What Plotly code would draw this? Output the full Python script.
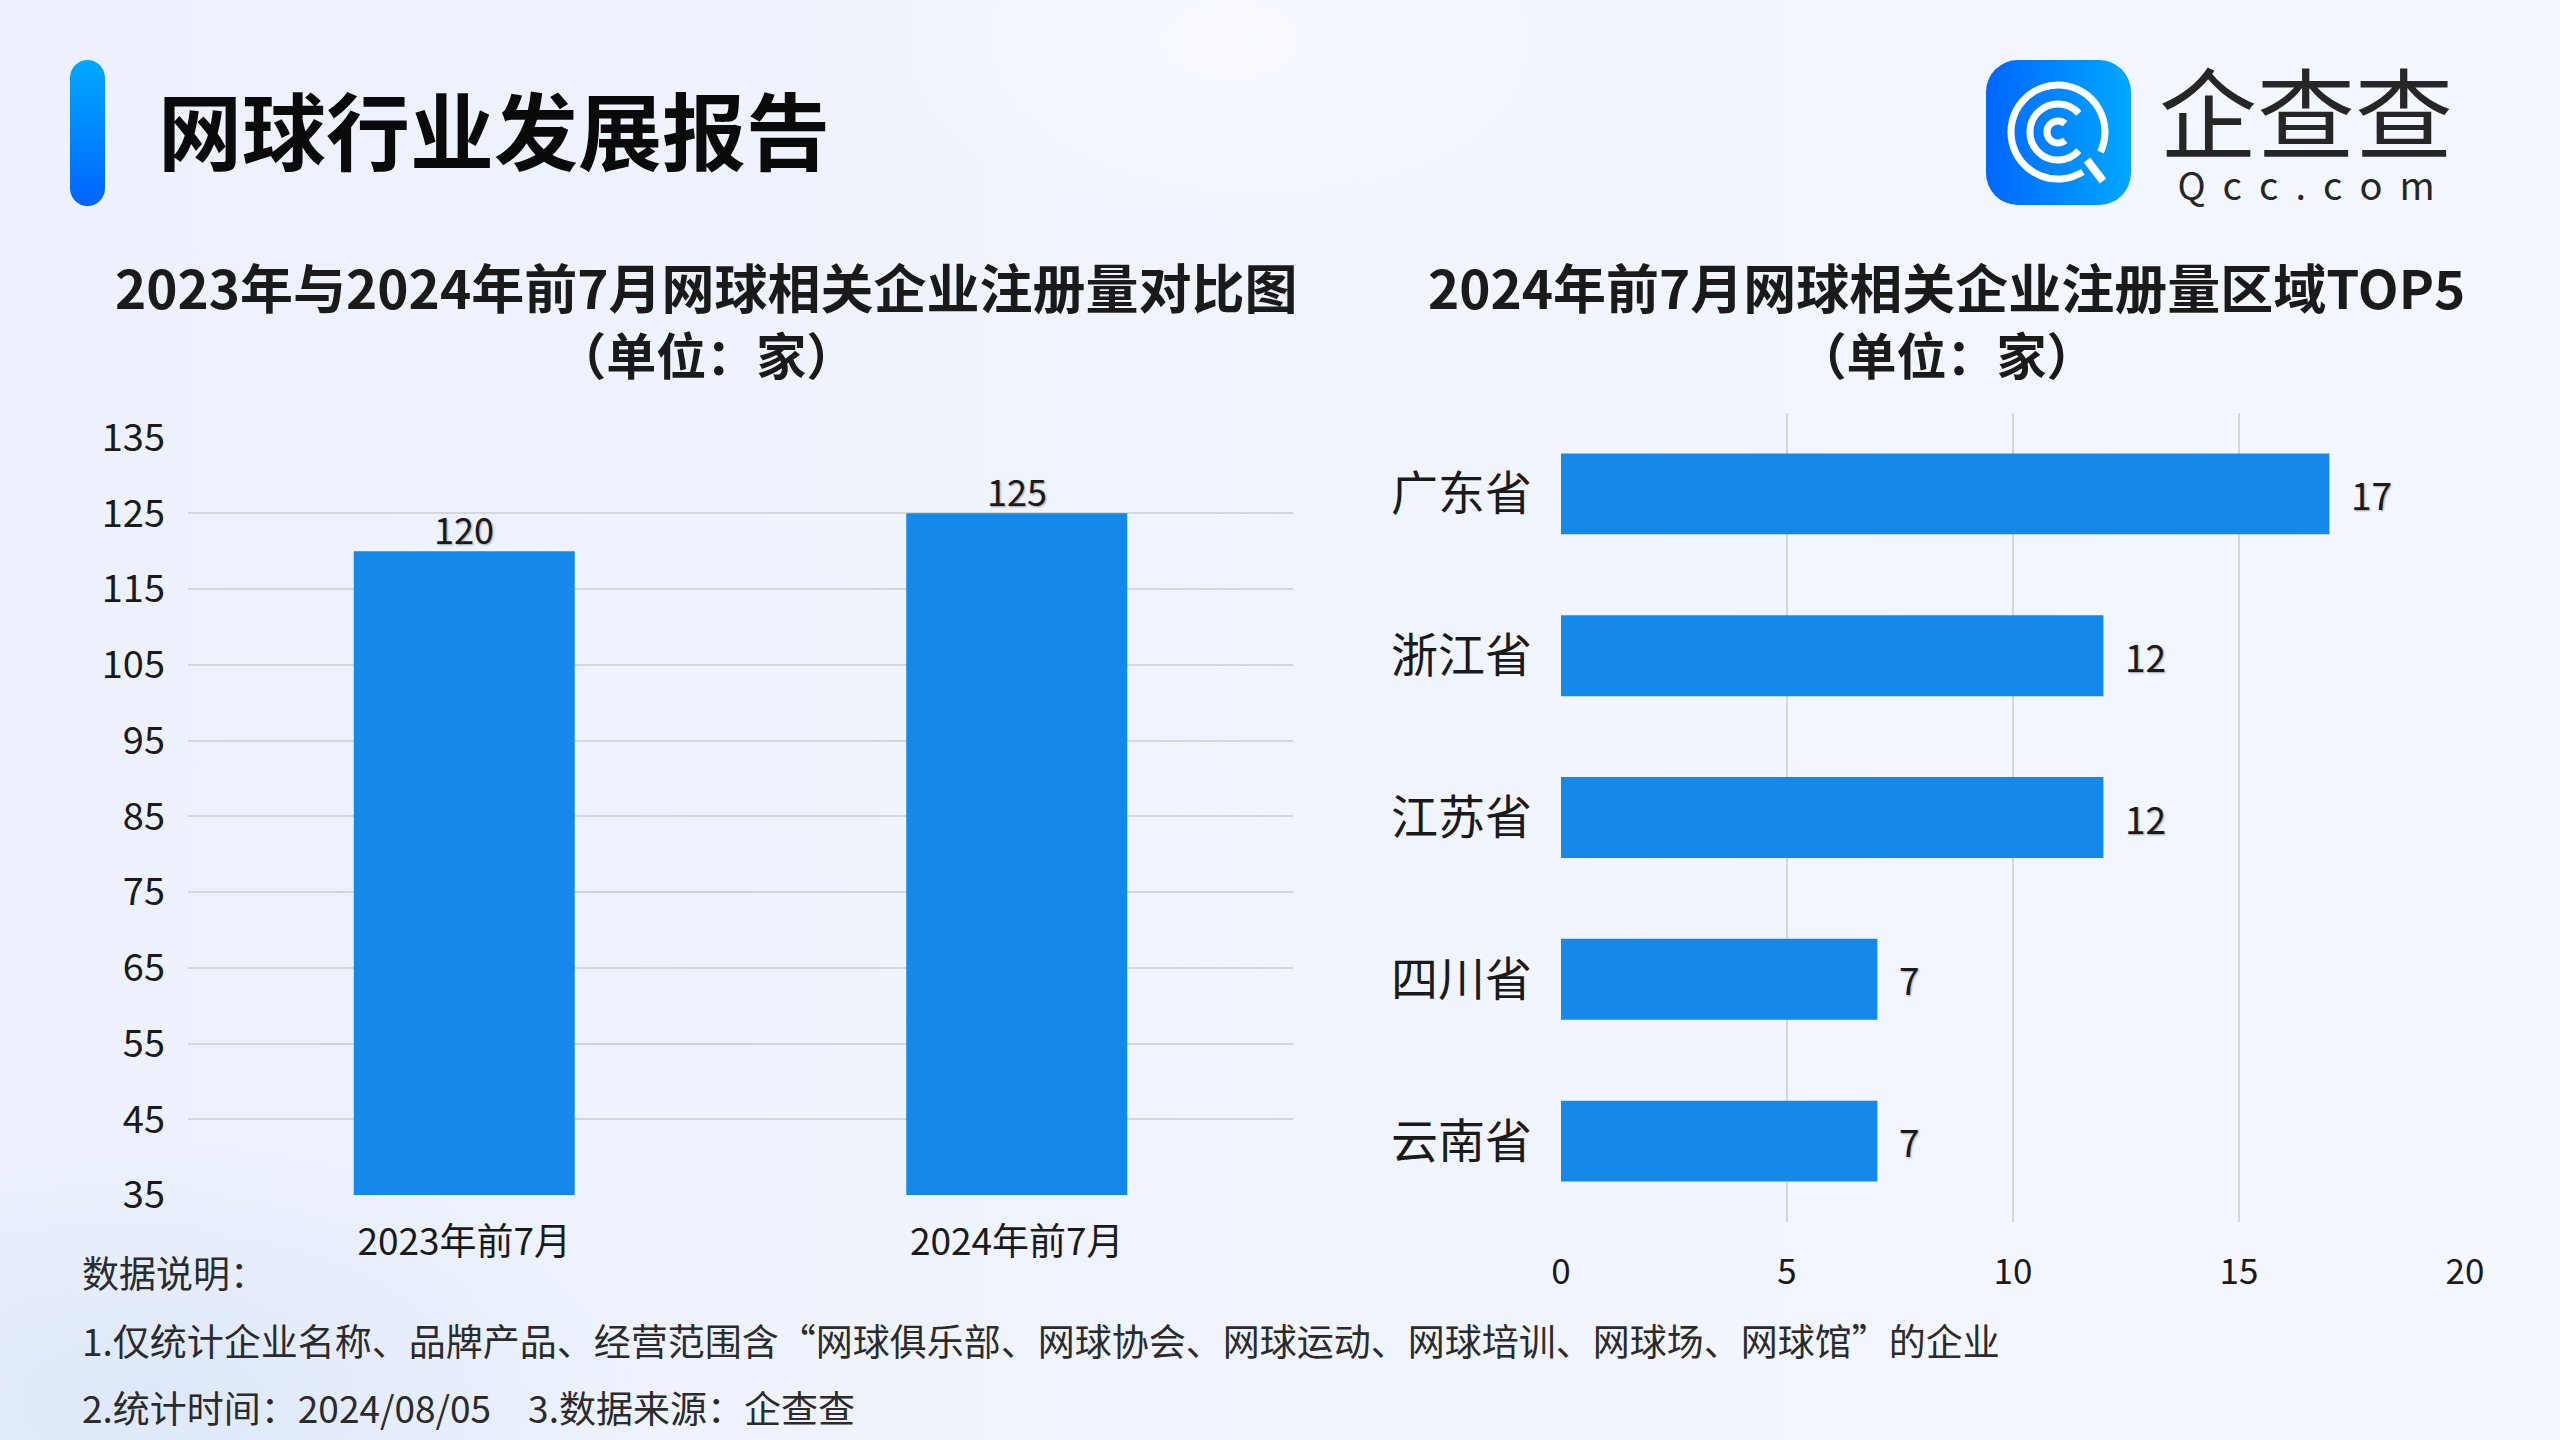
import math
import urllib.parse
import plotly.graph_objects as go

# ---------------- data ----------------
bar_categories = ["2023年前7月", "2024年前7月"]
bar_values = [120, 125]

provinces = ["广东省", "浙江省", "江苏省", "四川省", "云南省"]
province_values = [17, 12, 12, 7, 7]

left_y_ticks = [35, 45, 55, 65, 75, 85, 95, 105, 115, 125, 135]
right_x_ticks = [0, 5, 10, 15, 20]

main_title = "网球行业发展报告"
left_title = "2023年与2024年前7月网球相关企业注册量对比图"
right_title = "2024年前7月网球相关企业注册量区域TOP5"
unit_text = "（单位：家）"
logo_cn = "企查查"
logo_en = "Qcc.com"
notes = [
    "数据说明：",
    "1.仅统计企业名称、品牌产品、经营范围含“网球俱乐部、网球协会、网球运动、网球培训、网球场、网球馆”的企业",
    "2.统计时间：2024/08/05　3.数据来源：企查查",
]

# ---------------- style ----------------
W, H = 2560, 1440
FONT = "Noto Sans CJK SC"
BAR = "#1589EA"
GRID = "#D5D7DB"
TXT = "#1a1a1a"


def px(x):
    return x / W


def py(y):
    return 1 - y / H


def svg_uri(svg):
    return "data:image/svg+xml;charset=utf-8," + urllib.parse.quote(svg)


def arc(cx, cy, r, a0, a1):
    x0 = cx + r * math.cos(math.radians(a0))
    y0 = cy + r * math.sin(math.radians(a0))
    x1 = cx + r * math.cos(math.radians(a1))
    y1 = cy + r * math.sin(math.radians(a1))
    large = 1 if (a1 - a0) % 360 > 180 else 0
    return f"M{x0:.1f},{y0:.1f} A{r},{r} 0 {large} 1 {x1:.1f},{y1:.1f}"


def span(text, size):
    return f"<span style='font-size:{size}px'>{text}</span>"


bg_svg = (
    "<svg xmlns='http://www.w3.org/2000/svg' width='2560' height='1440'>"
    "<defs>"
    "<linearGradient id='a' x1='0' y1='0' x2='1' y2='0'>"
    "<stop offset='0' stop-color='#ECF1FC'/><stop offset='1' stop-color='#F4F7FE'/></linearGradient>"
    "<radialGradient id='b' cx='0.5' cy='0.5' r='0.5'>"
    "<stop offset='0' stop-color='#F8FAFF' stop-opacity='0.9'/><stop offset='1' stop-color='#F8FAFF' stop-opacity='0'/></radialGradient>"
    "<radialGradient id='c' cx='0.5' cy='0.5' r='0.5'>"
    "<stop offset='0' stop-color='#DCE7FA' stop-opacity='0.9'/><stop offset='1' stop-color='#DCE7FA' stop-opacity='0'/></radialGradient>"
    "</defs>"
    "<rect width='2560' height='1440' fill='url(#a)'/>"
    "<ellipse cx='1230' cy='40' rx='340' ry='200' fill='url(#b)'/>"
    "<ellipse cx='150' cy='1400' rx='500' ry='260' fill='url(#c)'/>"
    "</svg>"
)

accent_svg = (
    "<svg xmlns='http://www.w3.org/2000/svg' width='36' height='146'>"
    "<defs><linearGradient id='g' x1='0' y1='0' x2='0' y2='1'>"
    "<stop offset='0' stop-color='#00A8FF'/><stop offset='1' stop-color='#0064FF'/></linearGradient></defs>"
    "<rect width='36' height='146' rx='18' fill='url(#g)'/></svg>"
)

c = 72
icon_paths = [
    arc(c, c, 47, 58, 385),
    arc(c, c, 28, 42, 318),
    arc(c, c, 11, 50, 310),
]
tail = "M101,100 L117,121"
icon_svg = (
    "<svg xmlns='http://www.w3.org/2000/svg' width='145' height='145'>"
    "<defs><linearGradient id='g' x1='0' y1='0' x2='1' y2='0'>"
    "<stop offset='0' stop-color='#0066FF'/><stop offset='1' stop-color='#00A8FF'/></linearGradient></defs>"
    "<rect width='145' height='145' rx='32' fill='url(#g)'/>"
    + "".join(
        f"<path d='{p}' fill='none' stroke='white' stroke-width='7' stroke-linecap='butt'/>"
        for p in icon_paths
    )
    + f"<path d='{tail}' fill='none' stroke='white' stroke-width='8'/>"
    "</svg>"
)

LABEL_FONT = dict(family=FONT, size=36, color=TXT, shadow="1px 1px 2px rgba(0,0,0,0.35)")

fig = go.Figure()

fig.add_trace(
    go.Bar(
        x=bar_categories,
        y=bar_values,
        marker=dict(color=BAR, line=dict(width=0)),
        xaxis="x",
        yaxis="y",
        hoverinfo="skip",
    )
)

fig.add_trace(
    go.Bar(
        x=province_values,
        y=provinces,
        orientation="h",
        width=0.5,
        marker=dict(color=BAR, line=dict(width=0)),
        text=province_values,
        texttemplate="\u2002%{x}",
        textposition="outside",
        cliponaxis=False,
        textfont=dict(LABEL_FONT, size=37),
        xaxis="x2",
        yaxis="y2",
        hoverinfo="skip",
    )
)

annotations = [
    dict(text=main_title, x=px(156), y=py(127), xanchor="left", yanchor="middle",
         font=dict(family=FONT, size=84, color="#0a0a0a", weight="bold")),
    dict(text=span(left_title, 53) + "<br>" + span(unit_text, 50), x=px(706), y=py(318),
         xanchor="center", yanchor="middle", align="center",
         font=dict(family=FONT, size=51, color=TXT, weight="bold")),
    dict(text=span(right_title, 53) + "<br>" + span(unit_text, 50), x=px(1946), y=py(318),
         xanchor="center", yanchor="middle", align="center",
         font=dict(family=FONT, size=51, color=TXT, weight="bold")),
    dict(text=span(logo_cn, 98) + "<br>" + span("\u00a0\u00a0".join(logo_en), 38),
         x=px(2306), y=py(124), xanchor="center", yanchor="middle", align="center",
         font=dict(family=FONT, size=38, color="#262626")),
]
# value labels of the left bars, placed on the data scale
for cat, val in zip(bar_categories, bar_values):
    annotations.append(
        dict(text=str(val), x=cat, y=val, xref="x", yref="y", xanchor="center",
             yanchor="bottom", yshift=-5, showarrow=False, font=LABEL_FONT)
    )
for txt, yy in zip(notes, [1272, 1340, 1407]):
    annotations.append(
        dict(text=txt, x=px(80), y=py(yy), xanchor="left", yanchor="middle",
             font=dict(family=FONT, size=37, color="#2b2b2b"))
    )
for a in annotations:
    a.setdefault("xref", "paper")
    a.setdefault("yref", "paper")
    a["showarrow"] = False

images = [
    dict(source=svg_uri(bg_svg), xref="paper", yref="paper", x=0, y=1, sizex=1, sizey=1,
         xanchor="left", yanchor="top", sizing="stretch", layer="below"),
    dict(source=svg_uri(accent_svg), xref="paper", yref="paper", x=px(70), y=py(60),
         sizex=px(35), sizey=146 / H, xanchor="left", yanchor="top", sizing="stretch", layer="above"),
    dict(source=svg_uri(icon_svg), xref="paper", yref="paper", x=px(1986), y=py(60),
         sizex=px(145), sizey=145 / H, xanchor="left", yanchor="top", sizing="stretch", layer="above"),
]

axis_common = dict(zeroline=False, showline=False, ticks="", automargin=False, fixedrange=True)

fig.update_layout(
    width=W,
    height=H,
    margin=dict(l=0, r=0, t=0, b=0, pad=0, autoexpand=False),
    paper_bgcolor="#EFF3FC",
    plot_bgcolor="rgba(0,0,0,0)",
    showlegend=False,
    bargap=0.6,
    font=dict(family=FONT, color=TXT),
    annotations=annotations,
    images=images,
    xaxis=dict(
        domain=[px(188), px(1293)],
        anchor="y",
        showgrid=False,
        tickfont=dict(family=FONT, size=37, color=TXT),
        ticklabelstandoff=22,
        **axis_common,
    ),
    yaxis=dict(
        domain=[py(1195), py(437.6)],
        anchor="x",
        range=[35, 135],
        tickvals=left_y_ticks,
        showgrid=True,
        gridcolor=GRID,
        gridwidth=2,
        tickfont=dict(family=FONT, size=38, color=TXT),
        ticklabelstandoff=22,
        **axis_common,
    ),
    xaxis2=dict(
        domain=[px(1561), px(2465)],
        anchor="y2",
        range=[0, 20],
        tickvals=right_x_ticks,
        showgrid=True,
        gridcolor=GRID,
        gridwidth=2,
        tickfont=dict(family=FONT, size=35, color=TXT),
        ticklabelstandoff=26,
        **axis_common,
    ),
    yaxis2=dict(
        domain=[py(1222), py(413)],
        anchor="x2",
        autorange="reversed",
        showgrid=False,
        tickfont=dict(family=FONT, size=47, color=TXT),
        ticklabelstandoff=28,
        **axis_common,
    ),
)

fig.write_html(
    "out.html",
    config={"displayModeBar": False},
    post_script="document.body.style.margin='0';document.body.style.overflow='hidden';",
)
